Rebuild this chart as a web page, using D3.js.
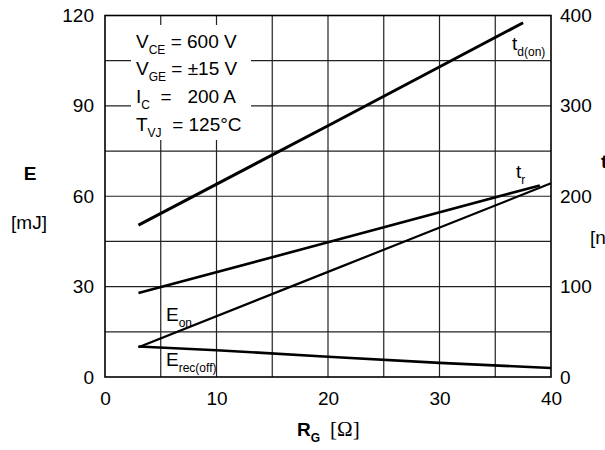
<!DOCTYPE html>
<html>
<head>
<meta charset="utf-8">
<script src="https://cdn.jsdelivr.net/npm/d3@7/dist/d3.min.js"></script>
<style>
  html, body { margin: 0; padding: 0; background: #fff; }
  svg { display: block; font-family: "Liberation Sans", Arial, Helvetica, sans-serif; }
</style>
</head>
<body>
<svg id="chart" width="605" height="450"></svg>
<script>
// Switching energy / switching time versus gate resistance
const xTicks = [0, 10, 20, 30, 40];
const eTicks = [0, 30, 60, 90, 120];
const tTicks = [0, 100, 200, 300, 400];

// Switching times [ns] (right axis)
const rgTdOn = [3, 20, 37.5];
const tdOn   = [168, 278, 392];
const rgTr   = [3, 20, 39];
const tr     = [93, 149, 212];

// Switching energies [mJ] (left axis)
const rgEon  = [3, 20, 40];
const eOn    = [9.9, 34.9, 64.3];
const rgErec = [3, 10, 20, 30, 40];
const eRec   = [10.1, 8.9, 6.7, 4.7, 3.0];

const svg = d3.select("#chart");
const x  = d3.scaleLinear().domain([0, 40]).range([105, 551]);
const yE = d3.scaleLinear().domain([0, 120]).range([377, 15.5]);
const yT = d3.scaleLinear().domain([0, 400]).range([377, 15.5]);

// grid
const grid = svg.append("g").attr("stroke", "#222").attr("stroke-width", 1.2);
d3.range(5, 40, 5).forEach(v => {
  grid.append("line").attr("x1", x(v)).attr("x2", x(v)).attr("y1", yE(0)).attr("y2", yE(120));
});
d3.range(15, 120, 15).forEach(v => {
  grid.append("line").attr("x1", x(0)).attr("x2", x(40)).attr("y1", yE(v)).attr("y2", yE(v));
});

// frame
svg.append("rect")
  .attr("x", x(0)).attr("y", yE(120))
  .attr("width", x(40) - x(0)).attr("height", yE(0) - yE(120))
  .attr("fill", "none").attr("stroke", "#000").attr("stroke-width", 1.6);

// axes
const tickFont = g => {
  g.select(".domain").remove();
  g.selectAll("text").attr("font-size", 19).attr("fill", "#000")
    .attr("font-family", "Liberation Sans, Arial, sans-serif");
};
svg.append("g").attr("transform", `translate(${x(0)},0)`)
  .call(d3.axisLeft(yE).tickValues(eTicks).tickSize(0).tickPadding(11).tickFormat(d3.format("d")))
  .call(tickFont);
svg.append("g").attr("transform", `translate(${x(40)},0)`)
  .call(d3.axisRight(yT).tickValues(tTicks).tickSize(0).tickPadding(9).tickFormat(d3.format("d")))
  .call(tickFont);
svg.append("g").attr("transform", `translate(0,${yE(0)})`)
  .call(d3.axisBottom(x).tickValues(xTicks).tickSize(0).tickPadding(15).tickFormat(d3.format("d")))
  .call(tickFont);

// curves
const lineE = (rs, vs) => d3.line().x((d, i) => x(rs[i])).y(d => yE(d))(vs);
const lineT = (rs, vs) => d3.line().x((d, i) => x(rs[i])).y(d => yT(d))(vs);
const curves = svg.append("g").attr("fill", "none").attr("stroke", "#000").attr("stroke-linecap", "butt");
curves.append("path").attr("d", lineT(rgTdOn, tdOn)).attr("stroke-width", 3);
curves.append("path").attr("d", lineT(rgTr, tr)).attr("stroke-width", 2.6);
curves.append("path").attr("d", lineE(rgEon, eOn)).attr("stroke-width", 2.2);
curves.append("path").attr("d", lineE(rgErec, eRec)).attr("stroke-width", 2.6);

// condition box
const box = svg.append("g");
box.append("rect").attr("x", 131).attr("y", 25).attr("width", 120).attr("height", 115).attr("fill", "#fff");
const cond = [
  { m: "V", s: "CE", r: " = 600 V", y: 48 },
  { m: "V", s: "GE", r: " = ±15 V", y: 75 },
  { m: "I", s: "C", r: "  =   200 A", y: 103 },
  { m: "T", s: "VJ", r: "  = 125°C", y: 131 }
];
cond.forEach(c => {
  const t = box.append("text").attr("x", 136).attr("y", c.y).attr("font-size", 19)
    .attr("xml:space", "preserve").style("white-space", "pre");
  t.append("tspan").text(c.m);
  t.append("tspan").attr("font-size", 12).attr("dy", 6).text(c.s);
  t.append("tspan").attr("dy", -6).text(c.r);
});

// curve labels
function subLabel(px, py, main, sub) {
  const t = svg.append("text").attr("x", px).attr("y", py).attr("font-size", 19);
  t.append("tspan").text(main);
  t.append("tspan").attr("font-size", 12).attr("dy", 6).text(sub);
}
subLabel(512, 50, "t", "d(on)");
subLabel(516, 178, "t", "r");
subLabel(166, 321, "E", "on");
subLabel(166, 366, "E", "rec(off)");

// axis titles
svg.append("text").attr("x", 30).attr("y", 180).attr("text-anchor", "middle")
  .attr("font-size", 19).attr("font-weight", "bold").text("E");
svg.append("text").attr("x", 29).attr("y", 229).attr("text-anchor", "middle")
  .attr("font-size", 19).text("[mJ]");
svg.append("text").attr("x", 601).attr("y", 168)
  .attr("font-size", 19).attr("font-weight", "bold").text("t");
svg.append("text").attr("x", 590).attr("y", 244)
  .attr("font-size", 19).text("[ns]");

const xt = svg.append("text").attr("x", 297).attr("y", 436).attr("font-size", 19);
xt.append("tspan").attr("font-weight", "bold").text("R");
xt.append("tspan").attr("font-weight", "bold").attr("font-size", 12).attr("dy", 6).text("G");
xt.append("tspan").attr("dy", -6).attr("dx", 10)
  .attr("font-family", "Liberation Serif, Times New Roman, serif").attr("font-size", 21).text("[Ω]");
</script>
</body>
</html>
